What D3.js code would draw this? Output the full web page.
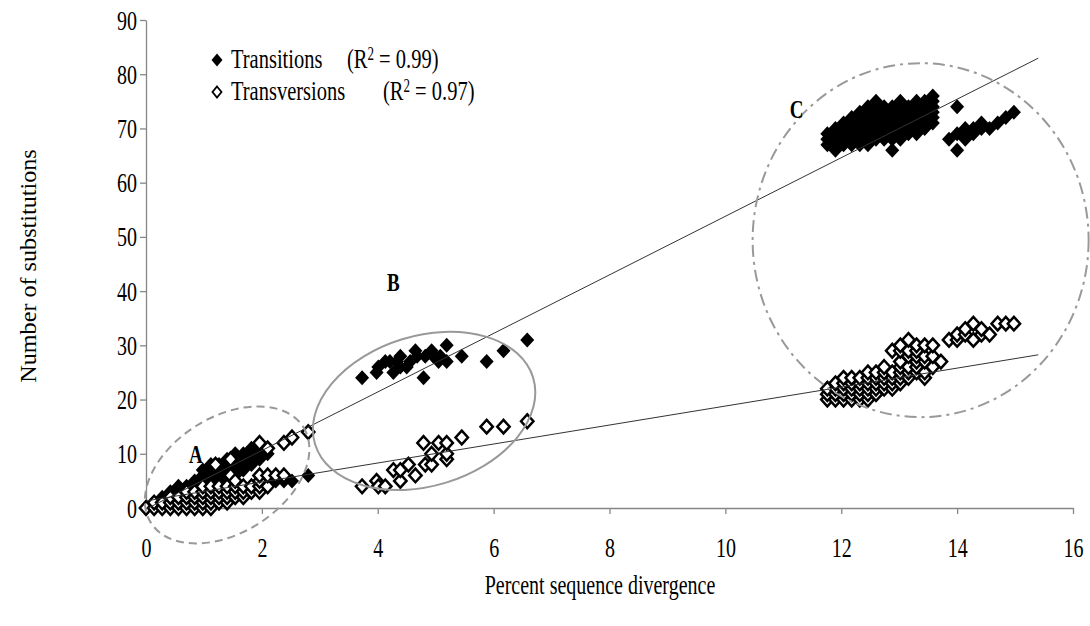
<!DOCTYPE html>
<html>
<head>
<meta charset="utf-8">
<script src="https://cdn.jsdelivr.net/npm/d3@7"></script>
<style>
  body { margin: 0; background: #fff; }
  svg text { font-family: "Liberation Serif", "Times New Roman", serif; fill: #000; }
</style>
</head>
<body>
<svg id="chart" width="1090" height="626"></svg>
<script>
// ---- Data: percent sequence divergence vs. number of substitutions ----
// Grouped as [divergence, [substitution counts at that divergence]]
const transitionsA = [
  [0, [0]], [0.14, [1]], [0.28, [1, 2]], [0.42, [1, 2, 3]], [0.56, [2, 3, 4]],
  [0.7, [3, 4]], [0.84, [3, 4, 5]], [0.98, [4, 5, 6, 7]], [1.12, [5, 6, 7, 8]],
  [1.26, [5, 6, 7, 8]], [1.4, [6, 7, 8, 9]], [1.54, [6, 7, 8, 9, 10]], [1.68, [7, 8, 9, 10]],
  [1.82, [8, 9, 10, 11]], [1.96, [9, 10, 11, 12]], [2.1, [10, 11]],
  [2.24, [5]], [2.38, [5]], [2.52, [5]], [2.8, [6]]
];
const transitionsB = [
  [3.73, [24]], [3.98, [25]], [4.01, [26]], [4.13, [27]], [4.21, [27]], [4.27, [25]],
  [4.33, [27]], [4.39, [26, 28]], [4.5, [26]], [4.56, [27]], [4.65, [29]], [4.68, [28]],
  [4.79, [24]], [4.82, [28]], [4.93, [29]], [4.96, [28]], [5.05, [27]], [5.08, [28]],
  [5.19, [27, 30]], [5.45, [28]], [5.88, [27]], [6.17, [29]], [6.58, [31]]
];
const transitionsC = [
  [11.76, [67, 68, 69]], [11.9, [66, 67, 68, 69, 70]], [12.04, [67, 68, 69, 70, 71]],
  [12.18, [67, 68, 69, 70, 71, 72]], [12.32, [67, 68, 69, 70, 71, 72, 73]],
  [12.46, [67, 68, 69, 70, 71, 72, 73, 74]], [12.6, [68, 69, 70, 71, 72, 73, 74, 75]],
  [12.74, [68, 69, 70, 71, 72, 73, 74]], [12.88, [66, 68, 69, 70, 71, 72, 73, 74]],
  [13.02, [68, 69, 70, 71, 72, 73, 74, 75]], [13.16, [69, 70, 71, 72, 73, 74]],
  [13.3, [69, 70, 71, 72, 73, 74, 75]], [13.44, [70, 71, 72, 73, 74, 75]],
  [13.58, [71, 72, 73, 74, 75, 76]],
  [13.86, [68]], [14.0, [66, 69, 74]], [14.14, [68, 69, 70]], [14.28, [69, 70]],
  [14.42, [70, 71]], [14.56, [70]], [14.7, [71]], [14.84, [72]], [14.98, [73]]
];
const transversionsA = [
  [0, [0]], [0.14, [0, 1]], [0.28, [0, 1]], [0.42, [0, 1, 2]], [0.56, [0, 1, 2]],
  [0.7, [0, 1, 2, 3]], [0.84, [0, 1, 2, 3]], [0.98, [0, 1, 2, 3, 4]], [1.12, [0, 1, 2, 3, 4]],
  [1.2, [8]], [1.26, [1, 2, 3, 4]], [1.4, [1, 2, 3, 4]], [1.46, [6, 9]], [1.54, [2, 3, 4, 5]],
  [1.68, [2, 3, 4]], [1.82, [3, 4]], [1.96, [3, 4, 5, 6, 12]], [2.1, [4, 6, 11]],
  [2.24, [6]], [2.38, [6, 12]], [2.52, [13]], [2.8, [14]]
];
const transversionsB = [
  [3.73, [4]], [3.98, [5]], [4.01, [4]], [4.13, [4]], [4.27, [7]], [4.39, [5, 7]],
  [4.53, [8]], [4.65, [6]], [4.79, [12]], [4.82, [8]], [4.93, [8, 10]], [5.05, [12]],
  [5.19, [9, 10, 12]], [5.45, [13]], [5.88, [15]], [6.17, [15]], [6.58, [16]]
];
const transversionsC = [
  [11.76, [20, 21, 22]], [11.9, [20, 21, 22, 23]], [12.04, [20, 21, 22, 23, 24]],
  [12.18, [20, 21, 22, 23, 24]], [12.32, [20, 21, 22, 23, 24]], [12.46, [20, 21, 22, 23, 24, 25]],
  [12.6, [21, 22, 23, 24, 25]], [12.74, [22, 23, 24, 25, 26]], [12.88, [22, 23, 24, 25, 29]],
  [13.02, [23, 24, 25, 26, 27, 29, 30]], [13.16, [24, 25, 26, 28, 29, 31]],
  [13.3, [25, 26, 27, 28, 29, 30]], [13.44, [24, 25, 27, 28, 30]], [13.58, [26, 28, 30]],
  [13.72, [27]], [13.86, [31]], [14.0, [31, 32]], [14.14, [32, 33]], [14.28, [31, 34]],
  [14.42, [32, 33]], [14.56, [32]], [14.7, [34]], [14.84, [34]], [14.98, [34]]
];

// Linear trendlines and their R² values
const fitTransitions = { slope: 5.4, intercept: -0.2, r2: "0.99" };
const fitTransversions = { slope: 1.75, intercept: 1.3, r2: "0.97" };
const fitDomain = [0, 15.4];

const xTicks = [0, 2, 4, 6, 8, 10, 12, 14, 16];
const yTicks = [0, 10, 20, 30, 40, 50, 60, 70, 80, 90];

// ---- Layout ----
const SY = 1.38;          // vertical stretch applied to horizontal text
const FONT = 20;
const svg = d3.select("#chart");
const x = d3.scaleLinear().domain([0, 16]).range([146, 1073]);
const y = d3.scaleLinear().domain([0, 90]).range([508, 20]);
const AXIS_GREY = "#868686";

const flatten = groups => groups.flatMap(([dx, ys]) => ys.map(v => [dx, v]));
const tsPoints = flatten([...transitionsA, ...transitionsB, ...transitionsC]);
const tvPoints = flatten([...transversionsA, ...transversionsB, ...transversionsC]);

const diamond = (rx, ry) => `M0,${-ry}L${rx},0L0,${ry}L${-rx},0Z`;

function stretchedText(parent, px, py, str, opts = {}) {
  const g = parent.append("g")
    .attr("transform", `translate(${px},${py})${opts.rotate ? ` rotate(${opts.rotate}) scale(${opts.stretch || 1},1)` : ` scale(1,${SY})`}`);
  return g.append("text")
    .attr("font-size", opts.size || FONT)
    .attr("text-anchor", opts.anchor || "start")
    .attr("font-weight", opts.bold ? "bold" : null)
    .text(str);
}

// ---- Axes ----
const xAxisG = svg.append("g")
  .attr("transform", `translate(0,${y(0)})`)
  .call(d3.axisBottom(x).tickValues(xTicks).tickSize(6).tickSizeOuter(0).tickFormat(d3.format("d")));
const yAxisG = svg.append("g")
  .attr("transform", `translate(${x(0)},0)`)
  .call(d3.axisLeft(y).tickValues(yTicks).tickSize(6).tickSizeOuter(0).tickFormat(d3.format("d")));

[xAxisG, yAxisG].forEach(g => {
  g.select(".domain").attr("stroke", AXIS_GREY).attr("stroke-width", 1.3);
  g.selectAll(".tick line").attr("stroke", AXIS_GREY).attr("stroke-width", 1.3);
  g.selectAll(".tick text")
    .attr("font-size", FONT)
    .attr("font-family", "Liberation Serif, Times New Roman, serif")
    .attr("fill", "#000");
});
xAxisG.selectAll(".tick text")
  .attr("y", 0).attr("dy", null)
  .attr("transform", `translate(0,49) scale(1,${SY})`);
yAxisG.selectAll(".tick text")
  .attr("x", 0).attr("dy", null)
  .attr("transform", `translate(-9,9) scale(1,${SY})`);

// Axis titles
stretchedText(svg, 600, 594, "Percent sequence divergence", { anchor: "middle" });
stretchedText(svg, 36, 266, "Number of substitutions", { anchor: "middle", rotate: -90, size: 23, stretch: 1.05 });

// ---- Markers ----
svg.append("g").selectAll("path")
  .data(tsPoints)
  .join("path")
  .attr("transform", d => `translate(${x(d[0])},${y(d[1])})`)
  .attr("d", diamond(7, 7.5))
  .attr("fill", "#000");

svg.append("g").selectAll("path")
  .data(tvPoints)
  .join("path")
  .attr("transform", d => `translate(${x(d[0])},${y(d[1])})`)
  .attr("d", diamond(6.2, 6.8))
  .attr("fill", "#fff")
  .attr("stroke", "#000")
  .attr("stroke-width", 2.5)
  .attr("stroke-linejoin", "miter");

// ---- Trendlines ----
[fitTransitions, fitTransversions].forEach(f => {
  svg.append("line")
    .attr("x1", x(fitDomain[0])).attr("y1", y(f.intercept + f.slope * fitDomain[0]))
    .attr("x2", x(fitDomain[1])).attr("y2", y(f.intercept + f.slope * fitDomain[1]))
    .attr("stroke", "#333").attr("stroke-width", 1);
});

// ---- Group outlines ----
const outlines = [
  { name: "A", cx: 1.4, cy: 6.1, rx: 90, ry: 58, angle: -32, dash: "8,5", lx: 0.86, ly: 9.8 },
  { name: "B", cx: 4.8, cy: 17.9, rx: 114, ry: 75, angle: -17, dash: null, lx: 4.27, ly: 41.5 },
  { name: "C", cx: 13.37, cy: 49.4, rx: 168, ry: 177, angle: 0, dash: "12,5,3,5", lx: 11.23, ly: 73.4 }
];
outlines.forEach(o => {
  svg.append("ellipse")
    .attr("transform", `translate(${x(o.cx)},${y(o.cy)}) rotate(${o.angle})`)
    .attr("rx", o.rx).attr("ry", o.ry)
    .attr("fill", "none")
    .attr("stroke", "#999")
    .attr("stroke-width", 2)
    .attr("stroke-dasharray", o.dash);
  stretchedText(svg, x(o.lx), y(o.ly) + 8, o.name, { anchor: "middle", bold: true, size: 19 });
});

// ---- Legend ----
const legend = [
  { label: "Transitions", fit: fitTransitions, filled: true, ty: 68, rx: 347 },
  { label: "Transversions", fit: fitTransversions, filled: false, ty: 100, rx: 383 }
];
legend.forEach(l => {
  svg.append("path")
    .attr("transform", `translate(217,${l.ty - 8})`)
    .attr("d", l.filled ? diamond(5.5, 6.5) : diamond(4.5, 5.5))
    .attr("fill", l.filled ? "#000" : "#fff")
    .attr("stroke", l.filled ? null : "#000")
    .attr("stroke-width", l.filled ? null : 1.8);
  stretchedText(svg, 231, l.ty, l.label, { size: 20.5 });
  const t = stretchedText(svg, l.rx, l.ty, "(R", { size: 20.5 });
  t.append("tspan").attr("dy", -6).attr("font-size", 13).text("2");
  t.append("tspan").attr("dy", 6).text(` = ${l.fit.r2})`);
});
</script>
</body>
</html>
